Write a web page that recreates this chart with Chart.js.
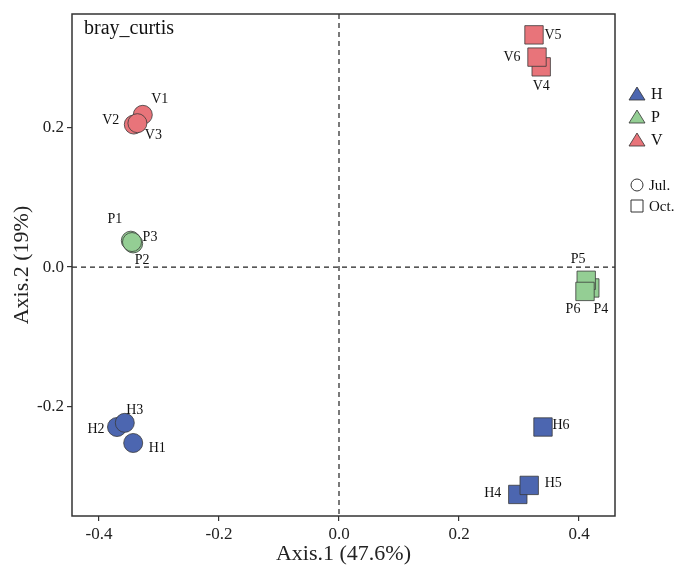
<!DOCTYPE html>
<html>
<head>
<meta charset="utf-8">
<script src="https://cdn.jsdelivr.net/npm/chart.js@4.4.1/dist/chart.umd.min.js"></script>
<style>
  html, body { margin: 0; padding: 0; background: #fff; }
  #wrap { width: 674px; height: 569px; }
</style>
</head>
<body>
<div id="wrap"><canvas id="pcoa"></canvas></div>
<script>
// PCoA (bray_curtis) sample scores
const groups = ["H", "P", "V"];
const months = ["Jul.", "Oct."];
const samples = ["H1", "H2", "H3", "H4", "H5", "H6",
                 "P1", "P2", "P3", "P4", "P5", "P6",
                 "V1", "V2", "V3", "V4", "V5", "V6"];
const sampleGroup = ["H", "H", "H", "H", "H", "H",
                     "P", "P", "P", "P", "P", "P",
                     "V", "V", "V", "V", "V", "V"];
const sampleMonth = ["Jul.", "Jul.", "Jul.", "Oct.", "Oct.", "Oct.",
                     "Jul.", "Jul.", "Jul.", "Oct.", "Oct.", "Oct.",
                     "Jul.", "Jul.", "Jul.", "Oct.", "Oct.", "Oct."];
const axis1 = [-0.343, -0.370, -0.357, 0.298, 0.317, 0.340,
               -0.347, -0.343, -0.345, 0.418, 0.412, 0.410,
               -0.327, -0.342, -0.336, 0.337, 0.325, 0.330];
const axis2 = [-0.253, -0.230, -0.224, -0.327, -0.314, -0.230,
               0.038, 0.034, 0.036, -0.030, -0.019, -0.035,
               0.219, 0.205, 0.207, 0.288, 0.334, 0.302];
const xTicks = [-0.4, -0.2, 0.0, 0.2, 0.4];
const yTicks = [-0.2, 0.0, 0.2];

const groupColors = { H: "#4c66b0", P: "#94ce94", V: "#e8747a" };
const monthShapes = { "Jul.": "circle", "Oct.": "rect" };

// where each sample name sits relative to its marker (px)
const labelOffsets = {
  H1: [24, 5], H2: [-21, 2], H3: [10, -13], H4: [-25, -1], H5: [24, -2], H6: [18, -2],
  P1: [-16, -21], P2: [9, 17], P3: [18, -5], P4: [11, 21], P5: [-8, -21], P6: [-12, 18],
  V1: [17, -15], V2: [-23, -4], V3: [16, 12], V4: [0, 19], V5: [19, 0], V6: [-25, 0]
};

const serif = "'Liberation Serif', 'Times New Roman', serif";

const datasets = [];
groups.forEach((g) => {
  months.forEach((m) => {
    const pts = [];
    samples.forEach((s, i) => {
      if (sampleGroup[i] === g && sampleMonth[i] === m) {
        pts.push({ x: axis1[i], y: axis2[i], name: s });
      }
    });
    datasets.push({
      label: g + " " + m,
      data: pts,
      pointStyle: monthShapes[m],
      pointRadius: m === "Jul." ? 9.5 : 13,
      pointHoverRadius: m === "Jul." ? 9.5 : 13,
      backgroundColor: groupColors[g],
      borderColor: "#3a3a3a",
      borderWidth: 0.8,
    });
  });
});

const framePlugin = {
  id: "frame",
  beforeDatasetsDraw(chart) {
    const { ctx, chartArea: a, scales } = chart;
    const x0 = scales.x.getPixelForValue(0);
    const y0 = scales.y.getPixelForValue(0);
    ctx.save();
    ctx.strokeStyle = "#222";
    ctx.lineWidth = 1.2;
    ctx.setLineDash([5, 4]);
    ctx.beginPath();
    ctx.moveTo(x0, a.top);
    ctx.lineTo(x0, a.bottom);
    ctx.moveTo(a.left, y0);
    ctx.lineTo(a.right, y0);
    ctx.stroke();
    ctx.restore();
  },
  afterDraw(chart) {
    const { ctx, chartArea: a } = chart;
    ctx.save();
    // box
    ctx.strokeStyle = "#333";
    ctx.lineWidth = 1.5;
    ctx.strokeRect(a.left, a.top, a.right - a.left, a.bottom - a.top);

    // distance name
    ctx.fillStyle = "#111";
    ctx.font = "20px " + serif;
    ctx.textAlign = "left";
    ctx.textBaseline = "middle";
    ctx.fillText("bray_curtis", a.left + 12, a.top + 15);

    // sample labels
    ctx.font = "14px " + serif;
    ctx.textAlign = "center";
    chart.data.datasets.forEach((ds, di) => {
      const meta = chart.getDatasetMeta(di);
      meta.data.forEach((el, i) => {
        const name = ds.data[i].name;
        const off = labelOffsets[name] || [0, 0];
        ctx.fillText(name, el.x + off[0], el.y + off[1]);
      });
    });

    // legend: groups
    const lx = a.right + 22;
    ctx.font = "16px " + serif;
    ctx.textAlign = "left";
    groups.forEach((g, i) => {
      const cy = 94 + i * 23;
      ctx.beginPath();
      ctx.moveTo(lx, cy - 7);
      ctx.lineTo(lx + 8, cy + 6);
      ctx.lineTo(lx - 8, cy + 6);
      ctx.closePath();
      ctx.fillStyle = groupColors[g];
      ctx.fill();
      ctx.strokeStyle = "#333";
      ctx.lineWidth = 0.8;
      ctx.stroke();
      ctx.fillStyle = "#111";
      ctx.fillText(g, lx + 14, cy + 1);
    });

    // legend: months
    ctx.font = "15px " + serif;
    months.forEach((m, i) => {
      const cy = 185 + i * 21;
      ctx.strokeStyle = "#333";
      ctx.lineWidth = 1;
      ctx.beginPath();
      if (monthShapes[m] === "circle") {
        ctx.arc(lx, cy, 6, 0, Math.PI * 2);
      } else {
        ctx.rect(lx - 6, cy - 6, 12, 12);
      }
      ctx.stroke();
      ctx.fillStyle = "#111";
      ctx.fillText(m, lx + 12, cy + 1);
    });
    ctx.restore();
  },
};

new Chart(document.getElementById("pcoa"), {
  type: "scatter",
  data: { datasets },
  plugins: [framePlugin],
  options: {
    responsive: true,
    maintainAspectRatio: false,
    animation: false,
    layout: { padding: { top: 14, right: 59, bottom: 0, left: 0 } },
    plugins: {
      legend: { display: false },
      tooltip: { enabled: false },
    },
    scales: {
      x: {
        type: "linear",
        min: -0.445,
        max: 0.46,
        afterBuildTicks: (scale) => { scale.ticks = xTicks.map((v) => ({ value: v })); },
        afterFit: (scale) => { scale.height = 53; },
        grid: { drawOnChartArea: false, drawTicks: true, tickLength: 5, color: "#333", lineWidth: 1.2 },
        border: { display: false },
        ticks: {
          padding: 3,
          color: "#222",
          font: { family: serif, size: 17 },
          callback: (v) => Number(v).toFixed(1),
        },
        title: {
          display: true,
          text: "Axis.1 (47.6%)",
          color: "#222",
          font: { family: serif, size: 22 },
          padding: { top: 0, bottom: 2 },
        },
      },
      y: {
        type: "linear",
        min: -0.358,
        max: 0.364,
        afterBuildTicks: (scale) => { scale.ticks = yTicks.map((v) => ({ value: v })); },
        afterFit: (scale) => { scale.width = 72; },
        grid: { drawOnChartArea: false, drawTicks: true, tickLength: 5, color: "#333", lineWidth: 1.2 },
        border: { display: false },
        ticks: {
          padding: 3,
          color: "#222",
          font: { family: serif, size: 17 },
          callback: (v) => Number(v).toFixed(1),
        },
        title: {
          display: true,
          text: "Axis.2 (19%)",
          color: "#222",
          font: { family: serif, size: 22 },
          padding: { top: 9, bottom: 0 },
        },
      },
    },
  },
});
</script>
</body>
</html>
